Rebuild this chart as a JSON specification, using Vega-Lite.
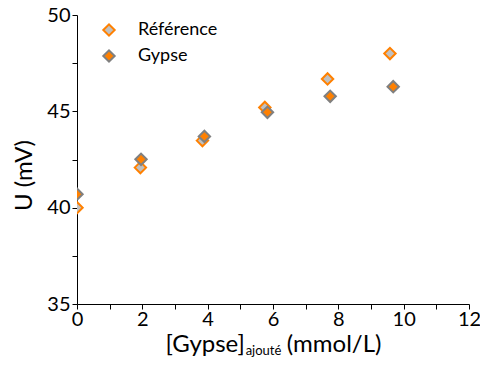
{
  "$schema": "https://vega.github.io/schema/vega-lite/v6.json",
  "width": 392,
  "height": 289,
  "autosize": "none",
  "padding": {"left": 77, "top": 15, "right": 11, "bottom": 61},
  "background": "white",
  "config": {
    "view": {"stroke": null},
    "font": "Lato",
    "axis": {"grid": false, "domainColor": "black", "tickColor": "black", "labelColor": "black", "titleColor": "black", "labelFont": "Lato", "titleFont": "Lato", "titleFontWeight": "normal", "labelOverlap": false, "labelFlush": false}
  },
  "data": {
    "values": [
      {"c": 0, "u": 40.0, "serie": "Référence"},
      {"c": 1.94, "u": 42.08, "serie": "Référence"},
      {"c": 3.84, "u": 43.48, "serie": "Référence"},
      {"c": 5.75, "u": 45.2, "serie": "Référence"},
      {"c": 7.67, "u": 46.68, "serie": "Référence"},
      {"c": 9.58, "u": 48.0, "serie": "Référence"},
      {"c": 0, "u": 40.7, "serie": "Gypse"},
      {"c": 1.96, "u": 42.51, "serie": "Gypse"},
      {"c": 3.9, "u": 43.7, "serie": "Gypse"},
      {"c": 5.83, "u": 44.95, "serie": "Gypse"},
      {"c": 7.75, "u": 45.78, "serie": "Gypse"},
      {"c": 9.68, "u": 46.28, "serie": "Gypse"}
    ]
  },
  "layer": [
    {
      "mark": {"type": "point", "shape": "diamond", "filled": true, "size": 130, "strokeWidth": 2, "opacity": 1, "clip": true},
      "encoding": {
        "x": {"field": "c", "type": "quantitative", "scale": {"domain": [0, 12], "nice": false, "zero": false},
          "axis": {"values": [0, 1, 2, 3, 4, 5, 6, 7, 8, 9, 10, 11, 12], "labelExpr": "datum.value % 2 === 0 ? datum.label : ''", "tickSize": 5, "labelFontSize": 20, "labelPadding": 0, "title": "[Gypse]\u2003\u2003\u2009\u2009(mmol/L)", "titleFontSize": 24, "titlePadding": 3,
            "encode": {"ticks": {"update": {"y2": {"signal": "datum.value % 2 === 0 ? 5 : 3"}}}}}},
        "y": {"field": "u", "type": "quantitative", "scale": {"domain": [35, 50], "nice": false, "zero": false},
          "axis": {"values": [35, 37.5, 40, 42.5, 45, 47.5, 50], "labelExpr": "datum.value % 5 === 0 ? datum.label : ''", "tickSize": 5, "labelFontSize": 20, "labelPadding": 2, "title": "U (mV)", "titleFontSize": 24, "titlePadding": 10, "titleY": 160,
            "encode": {"ticks": {"update": {"x2": {"signal": "datum.value % 5 === 0 ? -5 : -3"}}}}}},
        "fill": {"field": "serie", "type": "nominal", "sort": ["Référence", "Gypse"],
          "scale": {"domain": ["Référence", "Gypse"], "range": ["#C0C0C0", "#FF8000"]},
          "legend": {"title": null, "orient": "none", "legendX": 23, "legendY": 6, "labelFontSize": 18, "labelFont": "Lato", "labelColor": "black", "symbolSize": 130, "symbolStrokeWidth": 2, "rowPadding": 6, "labelOffset": 20, "symbolType": "diamond"}},
        "stroke": {"field": "serie", "type": "nominal", "sort": ["Référence", "Gypse"],
          "scale": {"domain": ["Référence", "Gypse"], "range": ["#FF8000", "#808080"]},
          "legend": {"title": null, "orient": "none", "legendX": 23, "legendY": 6, "labelFontSize": 18, "labelFont": "Lato", "labelColor": "black", "symbolSize": 130, "symbolStrokeWidth": 2, "rowPadding": 6, "labelOffset": 20, "symbolType": "diamond"}}
      }
    },
    {
      "mark": {"type": "point", "opacity": 0},
      "encoding": {
        "x": {"field": "c", "type": "quantitative", "scale": {"domain": [0, 12], "nice": false, "zero": false},
          "axis": {"orient": "top", "ticks": false, "labels": false, "domain": false, "title": "ajouté", "titleFontSize": 13, "titleX": 186, "titleY": 335, "titleBaseline": "middle", "titleAlign": "center"}}
      }
    }
  ],
  "resolve": {"axis": {"x": "independent"}}
}
